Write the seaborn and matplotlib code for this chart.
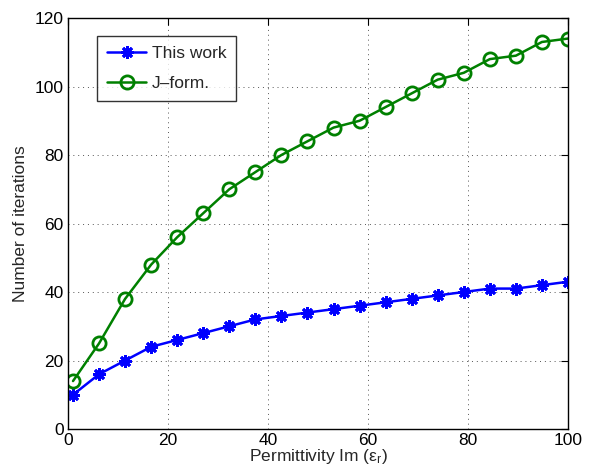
import matplotlib
matplotlib.use("Agg")
import matplotlib.pyplot as plt
import seaborn as sns
import pandas as pd

x_vals = [1, 6.21, 11.42, 16.63, 21.84, 27.05, 32.26, 37.47, 42.68, 47.89,
          53.11, 58.32, 63.53, 68.74, 73.95, 79.16, 84.37, 89.58, 94.79, 100]
this_work = [10, 16, 20, 24, 26, 28, 30, 32, 33, 34, 35, 36, 37, 38, 39, 40, 41, 41, 42, 43]
j_form = [14, 25, 38, 48, 56, 63, 70, 75, 80, 84, 88, 90, 94, 98, 102, 104, 108, 109, 113, 114]
x_ticks = [0, 20, 40, 60, 80, 100]
y_ticks = [0, 20, 40, 60, 80, 100, 120]

sns.set_theme(style="white")
plt.rcParams['font.family'] = ['Liberation Sans', 'DejaVu Sans']
plt.rcParams['mathtext.fontset'] = 'custom'
plt.rcParams['mathtext.rm'] = 'Liberation Sans'
plt.rcParams['mathtext.it'] = 'Liberation Sans'

FS = 12.5
fig = plt.figure(figsize=(6.05, 4.70), dpi=100)
ax = fig.add_axes([0.1124, 0.0872, 0.8264, 0.8745])

df1 = pd.DataFrame({"x": x_vals, "y": this_work})
df2 = pd.DataFrame({"x": x_vals, "y": j_form})

sns.lineplot(data=df1, x="x", y="y", ax=ax, color=(0, 0, 1), linewidth=1.8,
             marker=(8, 2, 0), markersize=9, markeredgewidth=2.0,
             markeredgecolor=(0, 0, 1), label="This work")
sns.lineplot(data=df2, x="x", y="y", ax=ax, color=(0, 0.5, 0), linewidth=1.8,
             marker="o", markersize=9.5, markerfacecolor="none",
             markeredgewidth=2.0, markeredgecolor=(0, 0.5, 0), label="J\u2013form.")

ax.set_xlim(0, 100)
ax.set_ylim(0, 120)
ax.set_xticks(x_ticks)
ax.set_yticks(y_ticks)
ax.grid(True, linestyle=(0, (1, 4)), color="#555555", linewidth=0.7)
ax.tick_params(direction="in", top=True, right=True, length=5, width=0.8,
               labelsize=FS, colors="black", pad=3)
for s in ax.spines.values():
    s.set_color("black")
    s.set_linewidth(1.0)
ax.set_xlabel("Permittivity Im (\u03b5$_r$)", fontsize=FS, labelpad=-1)
ax.set_ylabel("Number of iterations", fontsize=FS, labelpad=5)

leg = ax.legend(loc="upper left", bbox_to_anchor=(0.058, 0.955), fontsize=FS,
                frameon=True, fancybox=False, edgecolor="black",
                handlelength=2.3, borderpad=0.55, labelspacing=0.85,
                handletextpad=0.3, borderaxespad=0)
leg.get_frame().set_linewidth(1.0)

fig.savefig("out.png", dpi=100)
